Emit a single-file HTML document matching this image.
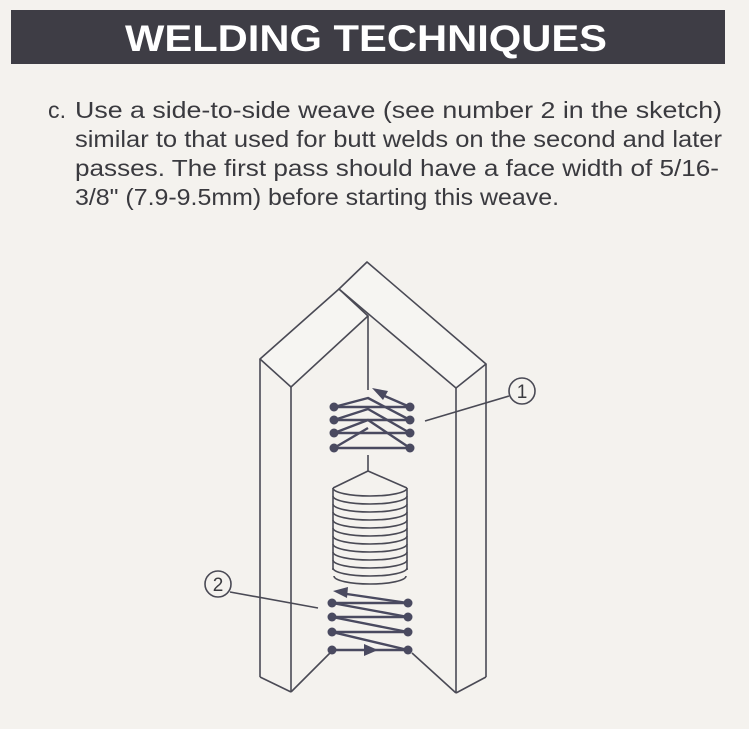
<!DOCTYPE html>
<html><head><meta charset="utf-8"><style>
html,body{margin:0;padding:0;background:#f4f2ee;}
svg{display:block;}
</style></head><body>
<svg width="749" height="729" viewBox="0 0 749 729" xmlns="http://www.w3.org/2000/svg">
<rect width="749" height="729" fill="#f4f2ee"/>
<rect x="11" y="10" width="714" height="54" fill="#3e3d45"/>
<text x="125" y="51" font-family="Liberation Sans, sans-serif" font-weight="bold" font-size="37" fill="#fff" textLength="482" lengthAdjust="spacingAndGlyphs">WELDING TECHNIQUES</text>
<g font-family="Liberation Sans, sans-serif" font-size="23" fill="#3a3a3f">
<text x="48" y="118" textLength="18" lengthAdjust="spacingAndGlyphs">c.</text>
<text x="75" y="118" textLength="647" lengthAdjust="spacingAndGlyphs">Use a side-to-side weave (see number 2 in the sketch)</text>
<text x="75" y="147" textLength="647" lengthAdjust="spacingAndGlyphs">similar to that used for butt welds on the second and later</text>
<text x="75" y="176" textLength="644" lengthAdjust="spacingAndGlyphs">passes. The first pass should have a face width of 5/16-</text>
<text x="75" y="205" textLength="484" lengthAdjust="spacingAndGlyphs">3/8" (7.9-9.5mm) before starting this weave.</text>
</g>
<g stroke="#4a4a55" stroke-width="1.6" fill="none" stroke-linejoin="round">
<polygon points="260,359 339,289 368,316 291,387" fill="#f6f5f2"/>
<polygon points="339,289 367,262 486,364 456,388" fill="#f6f5f2"/>
<line x1="260" y1="359" x2="260" y2="677"/>
<line x1="291" y1="387" x2="291" y2="692"/>
<line x1="260" y1="677" x2="291" y2="692"/>
<line x1="291" y1="692" x2="330" y2="653"/>
<line x1="486" y1="364" x2="486" y2="677"/>
<line x1="456" y1="388" x2="456" y2="693"/>
<line x1="486" y1="677" x2="456" y2="693"/>
<line x1="456" y1="693" x2="412" y2="653"/>
<line x1="368" y1="316" x2="368" y2="390"/>
<line x1="368" y1="455" x2="368" y2="471"/>
<!-- stack -->
<path d="M368,471 L333,488 M368,471 L407,488"/>
<path d="M333,488 A37,8 0 0 0 407,488"/>
<path d="M333,496 A37,8 0 0 0 407,496"/>
<path d="M333,504 A37,8 0 0 0 407,504"/>
<path d="M333,512 A37,8 0 0 0 407,512"/>
<path d="M333,520 A37,8 0 0 0 407,520"/>
<path d="M333,528 A37,8 0 0 0 407,528"/>
<path d="M333,536 A37,8 0 0 0 407,536"/>
<path d="M333,544 A37,8 0 0 0 407,544"/>
<path d="M333,552 A37,8 0 0 0 407,552"/>
<path d="M333,560 A37,8 0 0 0 407,560"/>
<path d="M333,568 A37,8 0 0 0 407,568"/>
<path d="M334,576 A36,8 0 0 0 406,576"/>
<line x1="333" y1="488" x2="333" y2="570"/>
<line x1="407" y1="488" x2="407" y2="570"/>
<!-- leaders -->
<line x1="425" y1="421" x2="509" y2="396"/>
<line x1="230" y1="592" x2="318" y2="608"/>
<circle cx="522" cy="391" r="13" fill="#f4f2ee"/>
<circle cx="218" cy="584" r="13" fill="#f4f2ee"/>
</g>
<g stroke="#4a4a60" stroke-width="2.4" fill="none" stroke-linejoin="round">
<!-- weave 1 -->
<line x1="334" y1="407" x2="410" y2="407"/>
<line x1="334" y1="420" x2="410" y2="420"/>
<line x1="334" y1="433" x2="410" y2="433"/>
<line x1="334" y1="448" x2="410" y2="448"/>
<polyline points="334,407 368,398 410,420"/>
<polyline points="334,420 368,409 410,433"/>
<polyline points="334,433 368,420 410,448"/>
<line x1="334" y1="448" x2="368" y2="428"/>
<line x1="410" y1="407" x2="380" y2="394"/>
<!-- weave 2 -->
<line x1="408" y1="603" x2="340" y2="593"/>
<line x1="332" y1="603" x2="408" y2="603"/>
<line x1="332" y1="617" x2="408" y2="617"/>
<line x1="332" y1="632" x2="408" y2="632"/>
<line x1="332" y1="650" x2="408" y2="650"/>
<line x1="332" y1="603" x2="408" y2="617"/>
<line x1="332" y1="617" x2="408" y2="632"/>
<line x1="332" y1="632" x2="408" y2="650"/>
</g>
<g fill="#4a4a60">
<circle cx="334" cy="407" r="4.5"/><circle cx="410" cy="407" r="4.5"/>
<circle cx="334" cy="420" r="4.5"/><circle cx="410" cy="420" r="4.5"/>
<circle cx="334" cy="433" r="4.5"/><circle cx="410" cy="433" r="4.5"/>
<circle cx="334" cy="448" r="4.5"/><circle cx="410" cy="448" r="4.5"/>
<circle cx="332" cy="603" r="4.5"/><circle cx="408" cy="603" r="4.5"/>
<circle cx="332" cy="617" r="4.5"/><circle cx="408" cy="617" r="4.5"/>
<circle cx="332" cy="632" r="4.5"/><circle cx="408" cy="632" r="4.5"/>
<circle cx="332" cy="650" r="4.5"/><circle cx="408" cy="650" r="4.5"/>
<polygon points="372,388 388,391 383,400"/>
<polygon points="333,591 348,587 347,598"/>
<polygon points="378,650 364,644 364,656"/>
</g>
<g font-family="Liberation Sans, sans-serif" font-size="19" fill="#3a3a3f" text-anchor="middle">
<text x="522" y="398">1</text>
<text x="218" y="591">2</text>
</g>
</svg>
</body></html>
